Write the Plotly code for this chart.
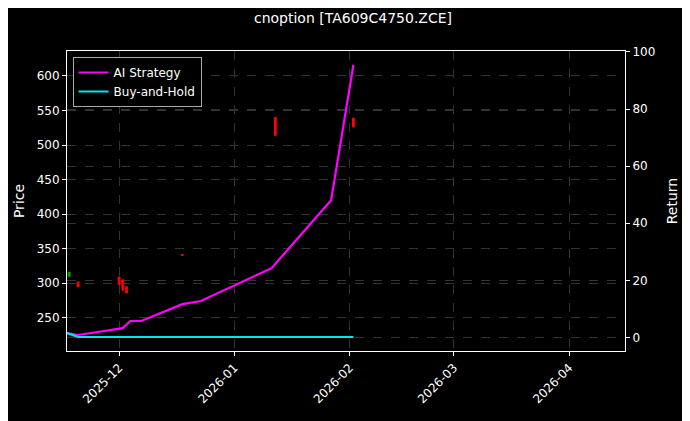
import plotly.graph_objects as go

c_dates = ["2025-11-17 14:00", "2025-11-20", "2025-12-01", "2025-12-02", "2025-12-03", "2025-12-18", "2026-01-12", "2026-02-02"]
c_open = [310, 302, 309, 305, 295, 341.5, 540, 539]
c_close = [316, 295, 298, 290, 286, 340.5, 514, 526]

r_dates = ["2025-11-17", "2025-11-20", "2025-12-02", "2025-12-04", "2025-12-07", "2025-12-12", "2025-12-18", "2025-12-23", "2026-01-11", "2026-01-27", "2026-02-02"]
ai_ret = [1.6, 0.9, 3.3, 5.8, 5.8, 8.6, 11.7, 12.8, 24.3, 48.1, 95.5]
bh_ret = [1.6, 0.2, 0.2, 0.2, 0.2, 0.2, 0.2, 0.2, 0.2, 0.2, 0.2]

c_high = [max(o, c) for o, c in zip(c_open, c_close)]
c_low = [min(o, c) for o, c in zip(c_open, c_close)]

fig = go.Figure()
fig.add_trace(go.Candlestick(x=c_dates, open=c_open, close=c_close, high=c_high, low=c_low,
                             increasing=dict(line=dict(color="#00aa00", width=1), fillcolor="#00aa00"),
                             decreasing=dict(line=dict(color="#ff0000", width=1), fillcolor="#ff0000"),
                             whiskerwidth=0, showlegend=False))
fig.add_trace(go.Scatter(x=r_dates, y=ai_ret, yaxis="y2", mode="lines", name="AI Strategy",
                         line=dict(color="#ff00ff", width=2.2)))
fig.add_trace(go.Scatter(x=r_dates, y=bh_ret, yaxis="y2", mode="lines", name="Buy-and-Hold",
                         line=dict(color="#00e5ee", width=2.2)))

grid = dict(showgrid=True, gridcolor="#333333", griddash="dash", gridwidth=0.5)
fig.update_layout(
    width=690, height=421, paper_bgcolor="black", plot_bgcolor="black",
    font=dict(family="DejaVu Sans", color="white", size=12),
    margin=dict(l=59, r=73, t=43, b=78, autoexpand=False),
    title=dict(text="cnoption [TA609C4750.ZCE]", x=0.5, xanchor="center", y=0.976, yanchor="middle", font=dict(size=14)),
    xaxis=dict(type="date", range=["2025-11-17", "2026-04-16"], tickangle=-45, automargin=False,
               tickvals=["2025-12-01", "2026-01-01", "2026-02-01", "2026-03-01", "2026-04-01"],
               ticktext=["2025-12", "2026-01", "2026-02", "2026-03", "2026-04"],
               rangeslider=dict(visible=False), showline=True, linecolor="white", mirror=True,
               ticks="outside", ticklen=4, tickcolor="white", zeroline=False, **grid),
    yaxis=dict(title=dict(text="Price", standoff=8), range=[202, 636], tickvals=[250, 300, 350, 400, 450, 500, 550, 600],
               automargin=False, showline=True, linecolor="white", ticks="outside", ticklen=4, tickcolor="white",
               zeroline=False, **grid),
    yaxis2=dict(title=dict(text="Return", standoff=12), overlaying="y", side="right", range=[-4.7, 100.3],
                automargin=False, tickvals=[0, 20, 40, 60, 80, 100], showline=True, linecolor="white", ticks="outside",
                ticklen=4, tickcolor="white", zeroline=False, **grid),
    legend=dict(x=0.01, y=0.98, xanchor="left", yanchor="top", bgcolor="black", bordercolor="#aaa",
                borderwidth=1, font=dict(size=12)),
)
fig.write_html("out.html")
